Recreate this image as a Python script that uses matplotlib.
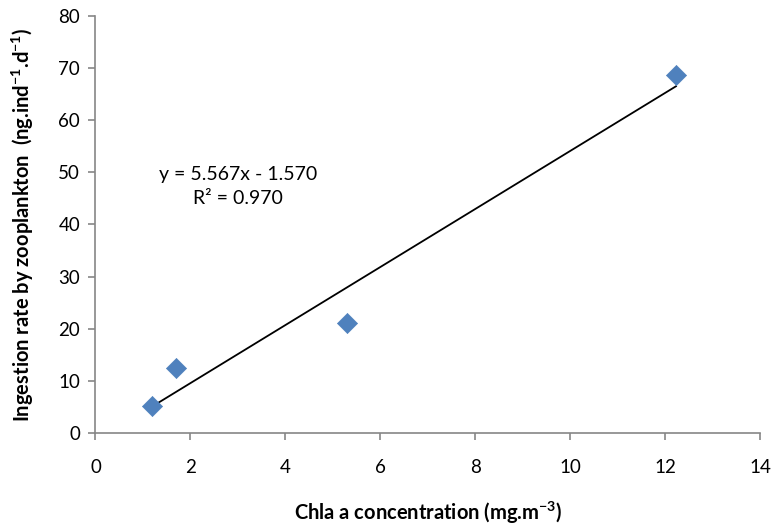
import matplotlib
matplotlib.use("Agg")
import matplotlib.pyplot as plt
import numpy as np

plt.rcParams['font.family'] = ['Lato', 'DejaVu Sans']
plt.rcParams['mathtext.fontset'] = 'custom'
plt.rcParams['mathtext.rm'] = 'Lato'
plt.rcParams['mathtext.bf'] = 'Lato:bold'

# Chl a concentration vs ingestion rate
chla = [1.2, 1.7, 5.3, 12.23]
ingestion = [5.2, 12.5, 21.1, 68.6]

# Linear trend reported on the chart
slope = 5.567
intercept = -1.570
r_squared = 0.970

x_ticks = [0, 2, 4, 6, 8, 10, 12, 14]
y_ticks = [0, 10, 20, 30, 40, 50, 60, 70, 80]

fig = plt.figure(figsize=(7.73, 5.29), dpi=100)
ax = fig.add_axes([0.1235, 0.1815, 0.8597, 0.7883])

# Trend line spans the data range
xs = np.array([min(chla), max(chla)])
ax.plot(xs, slope * xs + intercept, color='black', linewidth=1.3, zorder=2)

ax.scatter(chla, ingestion, marker='D', s=105, color='#4F81BD',
           edgecolors='#4F81BD', linewidths=0.5, zorder=3)

ax.text(3.0, 49.5, f"y = {slope:.3f}x - {abs(intercept):.3f}",
        ha='center', va='center', fontsize=14)
ax.text(3.0, 44.9, f"R² = {r_squared:.3f}",
        ha='center', va='center', fontsize=14)

ax.set_xlim(0, 14)
ax.set_ylim(0, 80)
ax.set_xticks(x_ticks)
ax.set_yticks(y_ticks)

for side in ['top', 'right']:
    ax.spines[side].set_visible(False)
for side in ['left', 'bottom']:
    ax.spines[side].set_color('#868686')
    ax.spines[side].set_linewidth(1.2)

ax.tick_params(axis='both', direction='out', length=5, width=1.2,
               color='#868686', labelsize=13.5, labelcolor='black')
ax.tick_params(axis='x', pad=14)
ax.tick_params(axis='y', pad=6)

ax.set_xlabel(r"Chla a concentration (mg.m$^{\mathbf{-3}}$)", fontsize=14.5,
              fontweight='bold', labelpad=17)
ax.set_ylabel(r"Ingestion rate by zooplankton  (ng.ind$^{\mathbf{-1}}$.d$^{\mathbf{-1}}$)",
              fontsize=14.5, fontweight='bold', labelpad=16)

fig.savefig("out.png", dpi=100)
